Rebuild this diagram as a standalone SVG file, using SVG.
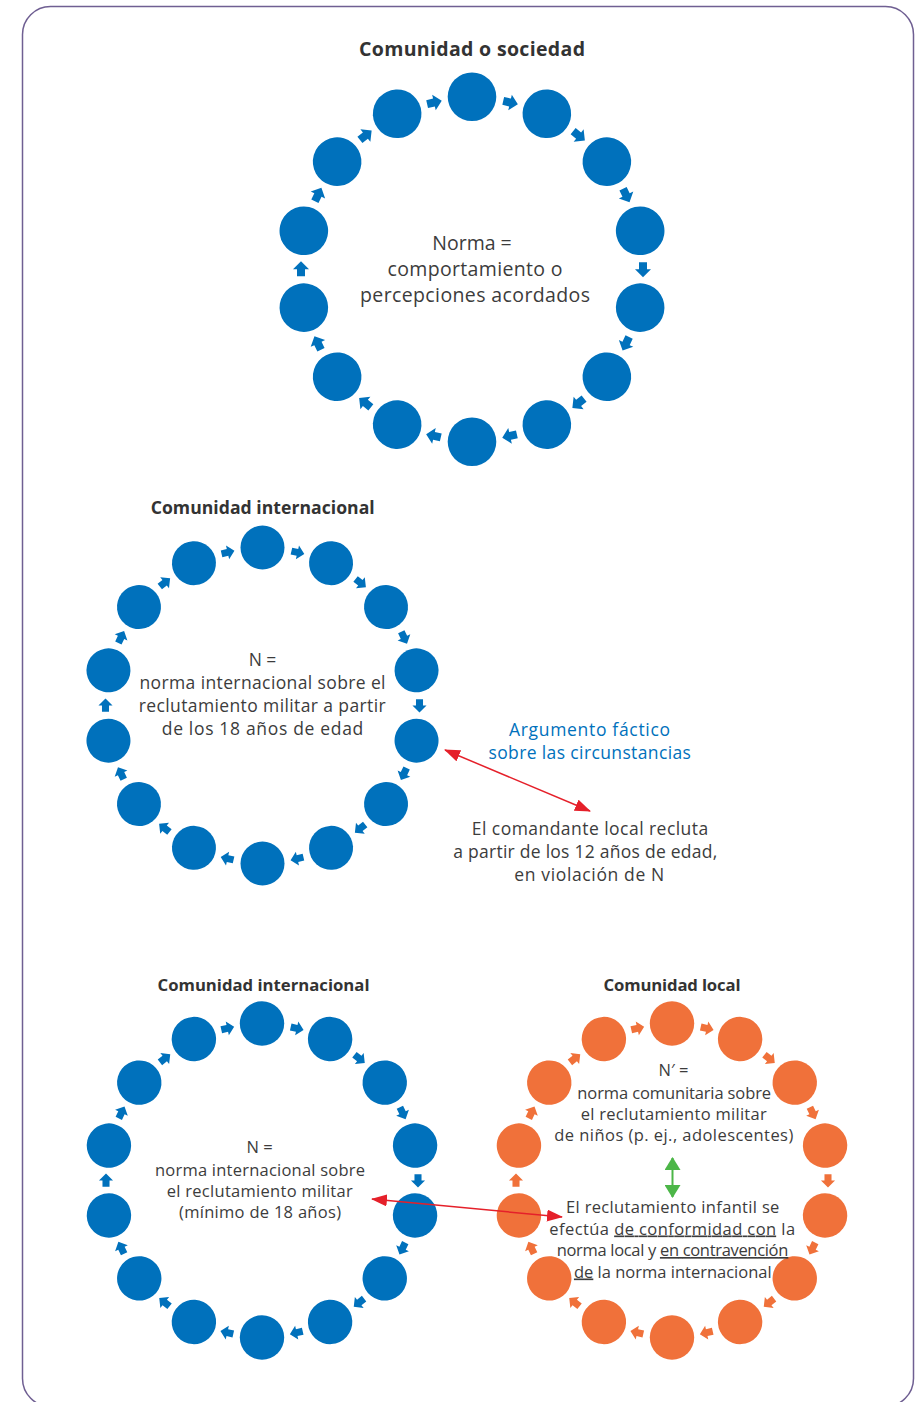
<svg xmlns="http://www.w3.org/2000/svg" width="918" height="1402" viewBox="0 0 918 1402">
<style>
.t{font-family:"Open Sans","Noto Sans",sans-serif;fill:#3c3c3c;text-anchor:middle}
.h{font-weight:bold;font-size:19px;fill:#333}
.bl{fill:#0071bc}
.b{fill:#0071bc}
.o{fill:#f0713a}
.u{text-decoration:underline}
</style>
<defs>
<path id="arr" d="M-7,-4H0V-8L8,0L0,8V4H-7Z"/>
<marker id="rh" viewBox="0 0 16 12" refX="15" refY="6" markerWidth="16" markerHeight="12" markerUnits="userSpaceOnUse" orient="auto-start-reverse"><path d="M0,0L16,6L0,12Z" fill="#e5202a"/></marker>
<marker id="gh" viewBox="0 0 13 16" refX="12" refY="8" markerWidth="13" markerHeight="16" markerUnits="userSpaceOnUse" orient="auto-start-reverse"><path d="M0,0L13,8L0,16Z" fill="#4cb648"/></marker>
</defs>
<rect x="22.5" y="6.5" width="891" height="1400" rx="28" fill="#fff" stroke="#6f5f92" stroke-width="1.5"/>

<g id="ring1" class="b" transform="translate(472,269.2)">
<circle r="24.3" transform="rotate(-90) translate(172.5,0)"/>
<circle r="24.3" transform="rotate(-64.286) translate(172.5,0)"/>
<circle r="24.3" transform="rotate(-38.571) translate(172.5,0)"/>
<circle r="24.3" transform="rotate(-12.857) translate(172.5,0)"/>
<circle r="24.3" transform="rotate(12.857) translate(172.5,0)"/>
<circle r="24.3" transform="rotate(38.571) translate(172.5,0)"/>
<circle r="24.3" transform="rotate(64.286) translate(172.5,0)"/>
<circle r="24.3" transform="rotate(90) translate(172.5,0)"/>
<circle r="24.3" transform="rotate(115.714) translate(172.5,0)"/>
<circle r="24.3" transform="rotate(141.429) translate(172.5,0)"/>
<circle r="24.3" transform="rotate(167.143) translate(172.5,0)"/>
<circle r="24.3" transform="rotate(192.857) translate(172.5,0)"/>
<circle r="24.3" transform="rotate(218.571) translate(172.5,0)"/>
<circle r="24.3" transform="rotate(244.286) translate(172.5,0)"/>
<use href="#arr" transform="rotate(-77.143) translate(171,0) rotate(90)"/>
<use href="#arr" transform="rotate(-51.429) translate(171,0) rotate(90)"/>
<use href="#arr" transform="rotate(-25.714) translate(171,0) rotate(90)"/>
<use href="#arr" transform="rotate(0) translate(171,0) rotate(90)"/>
<use href="#arr" transform="rotate(25.714) translate(171,0) rotate(90)"/>
<use href="#arr" transform="rotate(51.429) translate(171,0) rotate(90)"/>
<use href="#arr" transform="rotate(77.143) translate(171,0) rotate(90)"/>
<use href="#arr" transform="rotate(102.857) translate(171,0) rotate(90)"/>
<use href="#arr" transform="rotate(128.571) translate(171,0) rotate(90)"/>
<use href="#arr" transform="rotate(154.286) translate(171,0) rotate(90)"/>
<use href="#arr" transform="rotate(180) translate(171,0) rotate(90)"/>
<use href="#arr" transform="rotate(205.714) translate(171,0) rotate(90)"/>
<use href="#arr" transform="rotate(231.429) translate(171,0) rotate(90)"/>
<use href="#arr" transform="rotate(257.143) translate(171,0) rotate(90)"/>
</g>

<g id="ring2" class="b" transform="translate(262.5,705.5)">
<circle r="22" transform="rotate(-90) translate(158,0)"/>
<circle r="22" transform="rotate(-64.286) translate(158,0)"/>
<circle r="22" transform="rotate(-38.571) translate(158,0)"/>
<circle r="22" transform="rotate(-12.857) translate(158,0)"/>
<circle r="22" transform="rotate(12.857) translate(158,0)"/>
<circle r="22" transform="rotate(38.571) translate(158,0)"/>
<circle r="22" transform="rotate(64.286) translate(158,0)"/>
<circle r="22" transform="rotate(90) translate(158,0)"/>
<circle r="22" transform="rotate(115.714) translate(158,0)"/>
<circle r="22" transform="rotate(141.429) translate(158,0)"/>
<circle r="22" transform="rotate(167.143) translate(158,0)"/>
<circle r="22" transform="rotate(192.857) translate(158,0)"/>
<circle r="22" transform="rotate(218.571) translate(158,0)"/>
<circle r="22" transform="rotate(244.286) translate(158,0)"/>
<use href="#arr" transform="rotate(-77.143) translate(157,0) rotate(90) scale(0.88)"/>
<use href="#arr" transform="rotate(-51.429) translate(157,0) rotate(90) scale(0.88)"/>
<use href="#arr" transform="rotate(-25.714) translate(157,0) rotate(90) scale(0.88)"/>
<use href="#arr" transform="rotate(0) translate(157,0) rotate(90) scale(0.88)"/>
<use href="#arr" transform="rotate(25.714) translate(157,0) rotate(90) scale(0.88)"/>
<use href="#arr" transform="rotate(51.429) translate(157,0) rotate(90) scale(0.88)"/>
<use href="#arr" transform="rotate(77.143) translate(157,0) rotate(90) scale(0.88)"/>
<use href="#arr" transform="rotate(102.857) translate(157,0) rotate(90) scale(0.88)"/>
<use href="#arr" transform="rotate(128.571) translate(157,0) rotate(90) scale(0.88)"/>
<use href="#arr" transform="rotate(154.286) translate(157,0) rotate(90) scale(0.88)"/>
<use href="#arr" transform="rotate(180) translate(157,0) rotate(90) scale(0.88)"/>
<use href="#arr" transform="rotate(205.714) translate(157,0) rotate(90) scale(0.88)"/>
<use href="#arr" transform="rotate(231.429) translate(157,0) rotate(90) scale(0.88)"/>
<use href="#arr" transform="rotate(257.143) translate(157,0) rotate(90) scale(0.88)"/>
</g>

<g id="ring3" class="b" transform="translate(262,1180.5)">
<circle r="22.2" transform="rotate(-90) translate(157,0)"/>
<circle r="22.2" transform="rotate(-64.286) translate(157,0)"/>
<circle r="22.2" transform="rotate(-38.571) translate(157,0)"/>
<circle r="22.2" transform="rotate(-12.857) translate(157,0)"/>
<circle r="22.2" transform="rotate(12.857) translate(157,0)"/>
<circle r="22.2" transform="rotate(38.571) translate(157,0)"/>
<circle r="22.2" transform="rotate(64.286) translate(157,0)"/>
<circle r="22.2" transform="rotate(90) translate(157,0)"/>
<circle r="22.2" transform="rotate(115.714) translate(157,0)"/>
<circle r="22.2" transform="rotate(141.429) translate(157,0)"/>
<circle r="22.2" transform="rotate(167.143) translate(157,0)"/>
<circle r="22.2" transform="rotate(192.857) translate(157,0)"/>
<circle r="22.2" transform="rotate(218.571) translate(157,0)"/>
<circle r="22.2" transform="rotate(244.286) translate(157,0)"/>
<use href="#arr" transform="rotate(-77.143) translate(156,0) rotate(90) scale(0.88)"/>
<use href="#arr" transform="rotate(-51.429) translate(156,0) rotate(90) scale(0.88)"/>
<use href="#arr" transform="rotate(-25.714) translate(156,0) rotate(90) scale(0.88)"/>
<use href="#arr" transform="rotate(0) translate(156,0) rotate(90) scale(0.88)"/>
<use href="#arr" transform="rotate(25.714) translate(156,0) rotate(90) scale(0.88)"/>
<use href="#arr" transform="rotate(51.429) translate(156,0) rotate(90) scale(0.88)"/>
<use href="#arr" transform="rotate(77.143) translate(156,0) rotate(90) scale(0.88)"/>
<use href="#arr" transform="rotate(102.857) translate(156,0) rotate(90) scale(0.88)"/>
<use href="#arr" transform="rotate(128.571) translate(156,0) rotate(90) scale(0.88)"/>
<use href="#arr" transform="rotate(154.286) translate(156,0) rotate(90) scale(0.88)"/>
<use href="#arr" transform="rotate(180) translate(156,0) rotate(90) scale(0.88)"/>
<use href="#arr" transform="rotate(205.714) translate(156,0) rotate(90) scale(0.88)"/>
<use href="#arr" transform="rotate(231.429) translate(156,0) rotate(90) scale(0.88)"/>
<use href="#arr" transform="rotate(257.143) translate(156,0) rotate(90) scale(0.88)"/>
</g>

<g id="ring4" class="o" transform="translate(672,1180.5)">
<circle r="22.2" transform="rotate(-90) translate(157,0)"/>
<circle r="22.2" transform="rotate(-64.286) translate(157,0)"/>
<circle r="22.2" transform="rotate(-38.571) translate(157,0)"/>
<circle r="22.2" transform="rotate(-12.857) translate(157,0)"/>
<circle r="22.2" transform="rotate(12.857) translate(157,0)"/>
<circle r="22.2" transform="rotate(38.571) translate(157,0)"/>
<circle r="22.2" transform="rotate(64.286) translate(157,0)"/>
<circle r="22.2" transform="rotate(90) translate(157,0)"/>
<circle r="22.2" transform="rotate(115.714) translate(157,0)"/>
<circle r="22.2" transform="rotate(141.429) translate(157,0)"/>
<circle r="22.2" transform="rotate(167.143) translate(157,0)"/>
<circle r="22.2" transform="rotate(192.857) translate(157,0)"/>
<circle r="22.2" transform="rotate(218.571) translate(157,0)"/>
<circle r="22.2" transform="rotate(244.286) translate(157,0)"/>
<use href="#arr" transform="rotate(-77.143) translate(156,0) rotate(90) scale(0.88)"/>
<use href="#arr" transform="rotate(-51.429) translate(156,0) rotate(90) scale(0.88)"/>
<use href="#arr" transform="rotate(-25.714) translate(156,0) rotate(90) scale(0.88)"/>
<use href="#arr" transform="rotate(0) translate(156,0) rotate(90) scale(0.88)"/>
<use href="#arr" transform="rotate(25.714) translate(156,0) rotate(90) scale(0.88)"/>
<use href="#arr" transform="rotate(51.429) translate(156,0) rotate(90) scale(0.88)"/>
<use href="#arr" transform="rotate(77.143) translate(156,0) rotate(90) scale(0.88)"/>
<use href="#arr" transform="rotate(102.857) translate(156,0) rotate(90) scale(0.88)"/>
<use href="#arr" transform="rotate(128.571) translate(156,0) rotate(90) scale(0.88)"/>
<use href="#arr" transform="rotate(154.286) translate(156,0) rotate(90) scale(0.88)"/>
<use href="#arr" transform="rotate(180) translate(156,0) rotate(90) scale(0.88)"/>
<use href="#arr" transform="rotate(205.714) translate(156,0) rotate(90) scale(0.88)"/>
<use href="#arr" transform="rotate(231.429) translate(156,0) rotate(90) scale(0.88)"/>
<use href="#arr" transform="rotate(257.143) translate(156,0) rotate(90) scale(0.88)"/>
</g>

<g id="titles">
<text class="t h" x="472" y="56" style="font-size:19.5px" textLength="226">Comunidad o sociedad</text>
<text class="t h" x="262.7" y="514" style="font-size:17.6px" textLength="224">Comunidad internacional</text>
<text class="t h" x="263.5" y="991" style="font-size:16.7px" textLength="212">Comunidad internacional</text>
<text class="t h" x="672" y="991" style="font-size:16.7px" textLength="137">Comunidad local</text>
</g>

<g id="label1" class="t" font-size="19.5">
<text x="472" y="249.5">Norma =</text>
<text x="475" y="275.5" textLength="175">comportamiento o</text>
<text x="475" y="301.5" textLength="230">percepciones acordados</text>
</g>

<g id="label2" class="t" font-size="17.5">
<text x="262.5" y="666">N =</text>
<text x="262.5" y="689" textLength="246">norma internacional sobre el</text>
<text x="262.2" y="712" textLength="247">reclutamiento militar a partir</text>
<text x="262.5" y="735" textLength="201.5">de los 18 años de edad</text>
</g>

<g id="label-factico" class="t bl" font-size="17.5">
<text class="t bl" x="589.5" y="736" textLength="161">Argumento fáctico</text>
<text class="t bl" x="589.7" y="759" textLength="202.5">sobre las circunstancias</text>
</g>

<g id="label-comandante" class="t" font-size="17.5">
<text x="590" y="835" textLength="236.5">El comandante local recluta</text>
<text x="585.3" y="858" textLength="264">a partir de los 12 años de edad,</text>
<text x="589.3" y="881" textLength="150">en violación de N</text>
</g>

<g id="label3" class="t" font-size="16.5">
<text x="259.7" y="1153">N =</text>
<text x="260" y="1175.5" textLength="210">norma internacional sobre</text>
<text x="259.7" y="1197" textLength="186">el reclutamiento militar</text>
<text x="260" y="1218" textLength="162">(mínimo de 18 años)</text>
</g>

<g id="label4" class="t" font-size="16.5">
<text x="673.5" y="1076">N′ =</text>
<text x="674.2" y="1099" textLength="193.7">norma comunitaria sobre</text>
<text x="673.7" y="1119.5" textLength="186">el reclutamiento militar</text>
<text x="673.8" y="1141" textLength="239">de niños (p. ej., adolescentes)</text>
</g>

<g id="label5" class="t" font-size="16.5">
<text x="672.7" y="1213" textLength="213.3">El reclutamiento infantil se</text>
<text x="672.2" y="1234.5" textLength="245.7">efectúa <tspan class="u">de conformidad con</tspan> la</text>
<text x="672.5" y="1256" textLength="231.7">norma local y <tspan class="u">en contravención</tspan></text>
<text x="672.8" y="1277.5" textLength="197.7"><tspan class="u">de</tspan> la norma internacional</text>
</g>

<g id="connectors" fill="none" stroke-width="1.5">
<line x1="445" y1="750" x2="590" y2="811" stroke="#e5202a" marker-start="url(#rh)" marker-end="url(#rh)"/>
<line x1="372" y1="1199" x2="562" y2="1217" stroke="#e5202a" marker-start="url(#rh)" marker-end="url(#rh)"/>
<line x1="672.5" y1="1158" x2="672.5" y2="1197" stroke="#4cb648" stroke-width="2" marker-start="url(#gh)" marker-end="url(#gh)"/>
</g>
</svg>
